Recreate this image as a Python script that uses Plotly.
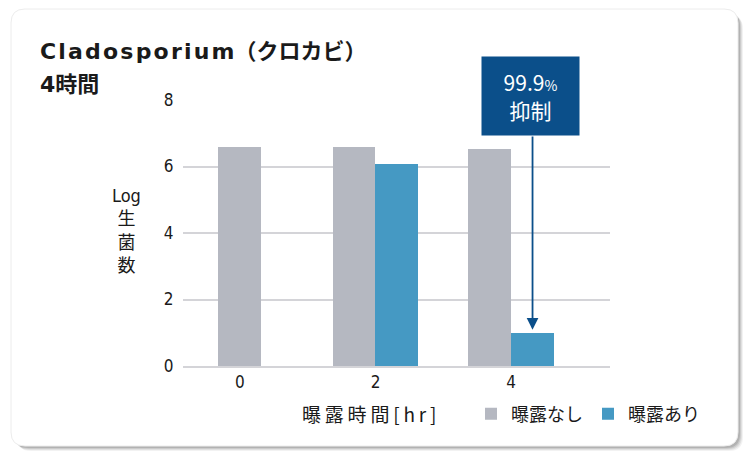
import plotly.graph_objects as go

# data
hours = ["0", "2", "4"]
no_exposure = [6.58, 6.6, 6.54]
exposure_hours = ["2", "4"]
with_exposure = [6.07, 1.0]
reduction_label = "99.9"

# the page puts the figure 8px in from the top-left corner
OFF = 8
W, H = 751 - OFF, 456 - OFF
L, R, T, B = 183 - OFF, 141, 100 - OFF, 90
PW, PH = W - L - R, H - T - B

GRAY = "#b5b8c1"
BLUE = "#4599c3"
NAVY = "#0b4f8a"
TXT = "#1a1a1a"
CJK = "Noto Sans CJK JP"
NARROW = "DejaVu Sans Condensed, Roboto, Noto Sans CJK JP"

bar_w = 0.317


def px(x):
    # screen x -> paper
    return (x - OFF - L) / PW


def py(y):
    # screen y -> paper
    return (H - B - (y - OFF)) / PH


def card_path(x0, y0, x1, y1, r):
    rx, ry = r / PW, r / PH
    a, b, c, d = px(x0), py(y0), px(x1), py(y1)
    return (
        f"M {a + rx},{b} L {c - rx},{b} Q {c},{b} {c},{b - ry} "
        f"L {c},{d + ry} Q {c},{d} {c - rx},{d} L {a + rx},{d} "
        f"Q {a},{d} {a},{d + ry} L {a},{b - ry} Q {a},{b} {a + rx},{b} Z"
    )


shapes = []
# soft shadow under the card
for i, op in enumerate([0.05, 0.07, 0.09, 0.12]):
    off = 5 - i
    shapes.append(dict(type="path", xref="paper", yref="paper", layer="below",
                       path=card_path(12 + off, 10 + off, 738 + off, 446 + off, 14),
                       fillcolor=f"rgba(0,0,0,{op})", line=dict(width=0)))
shapes.append(dict(type="path", xref="paper", yref="paper", layer="below",
                   path=card_path(11, 9, 738, 446, 14),
                   fillcolor="white", line=dict(color="#ececec", width=1)))

fig = go.Figure()
fig.add_trace(go.Bar(
    x=hours, y=no_exposure, name="曝露なし",
    marker=dict(color=GRAY, line=dict(width=0)),
    width=bar_w, offset=[-bar_w / 2, -bar_w, -bar_w],
))
fig.add_trace(go.Bar(
    x=exposure_hours, y=with_exposure, name="曝露あり",
    marker=dict(color=BLUE, line=dict(width=0)),
    width=bar_w, offset=0,
))

hair = "\u200a"
thin = "\u2009"
title_font = dict(family="DejaVu Sans, Noto Sans CJK JP", size=22, color=TXT)
annotations = [
    dict(text="<b>" + hair.join("Cladosporium") + "（クロカビ）</b>",
         xref="paper", yref="paper",
         x=px(38), y=py(51), xanchor="left", yanchor="middle", showarrow=False,
         font=title_font),
    dict(text="<b>4時間</b>", xref="paper", yref="paper",
         x=px(38), y=py(85), xanchor="left", yanchor="middle", showarrow=False,
         font=title_font),
    dict(text="Log<br>生<br>菌<br>数", xref="paper", yref="paper",
         x=px(126), y=py(231), xanchor="center", yanchor="middle", showarrow=False,
         font=dict(family=NARROW, size=18, color=TXT)),
    dict(text=thin.join("曝露時間[hr]"), xref="paper", yref="paper",
         x=px(369), y=py(413), xanchor="center", yanchor="middle", showarrow=False,
         font=dict(family=CJK, size=19, color=TXT)),
    # arrow from the box down to the exposed bar at 4h
    dict(text="", x=2 + bar_w / 2, y=with_exposure[1], xref="x", yref="y",
         ax=2 + bar_w / 2, ay=6.95, axref="x", ayref="y", showarrow=True,
         arrowhead=2, arrowsize=1.3, arrowwidth=1.8, arrowcolor=NAVY, standoff=3),
    dict(text=f"{reduction_label}<span style='font-size:14px'>%</span><br>抑制",
         xref="paper", yref="paper", x=px(530), y=py(96),
         xanchor="center", yanchor="middle", showarrow=False,
         width=97, height=78, bgcolor=NAVY, borderpad=0,
         font=dict(family=CJK, size=21, color="white")),
]

fig.update_layout(
    width=W, height=H,
    margin=dict(l=L, r=R, t=T, b=B),
    paper_bgcolor="white", plot_bgcolor="rgba(0,0,0,0)",
    barmode="overlay", bargap=0,
    shapes=shapes, annotations=annotations,
    showlegend=True,
    legend=dict(orientation="h", x=px(471), y=py(414), xanchor="left", yanchor="middle",
                font=dict(family=CJK, size=18, color=TXT), itemwidth=30,
                bgcolor="rgba(0,0,0,0)"),
    font=dict(family=NARROW, color=TXT),
)
fig.update_xaxes(
    type="category", range=[-0.42, 2.73], showgrid=False,
    showline=True, linecolor="#d4d4d8", linewidth=2,
    ticks="", tickfont=dict(family=NARROW, size=17, color=TXT),
)
fig.update_yaxes(
    range=[0, 8], tickvals=[0, 2, 4, 6, 8], showgrid=True,
    gridcolor="#d4d4d8", gridwidth=1.5, zeroline=False, showline=False,
    ticks="outside", ticklen=5, tickcolor="rgba(0,0,0,0)",
    tickfont=dict(family=NARROW, size=17, color=TXT),
)

fig.write_html("out.html")
